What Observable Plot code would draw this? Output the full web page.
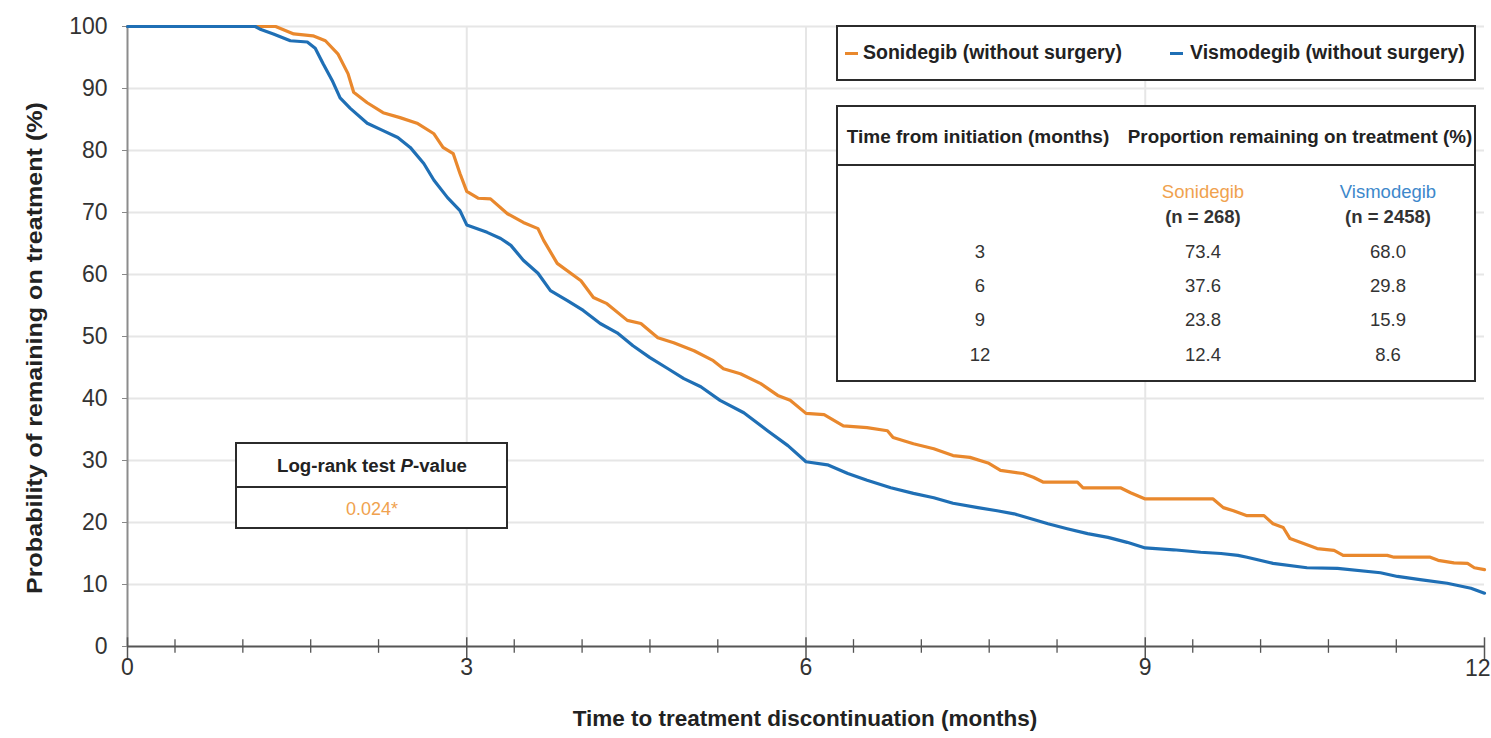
<!DOCTYPE html>
<html>
<head>
<meta charset="utf-8">
<script src="https://cdn.jsdelivr.net/npm/d3@7"></script>
<script src="https://cdn.jsdelivr.net/npm/@observablehq/plot@0.6"></script>
<style>
  body { margin: 0; background: #fff; }
  #wrap {
    position: relative; width: 1491px; height: 738px; overflow: hidden;
    font-family: "Liberation Sans", Arial, sans-serif;
    color: #222;
  }
  #wrap svg { position: absolute; left: 0; top: 0; }
  .box { position: absolute; box-sizing: border-box; border: 2px solid #2b2b2b; background: #fff; }
  .abs { position: absolute; white-space: nowrap; }
  .c { transform: translate(-50%, -50%); text-align: center; }
  .b { font-weight: bold; }
</style>
</head>
<body>
<div id="wrap"></div>
<script>
// Kaplan–Meier estimates of time to treatment discontinuation (months, % remaining)
const sonidegibTime = [0, 1.15, 1.31, 1.47, 1.64, 1.75, 1.86, 1.95, 2.00, 2.12, 2.26, 2.41, 2.56, 2.71, 2.79, 2.88, 2.94, 3.00, 3.10, 3.21, 3.36, 3.50, 3.63, 3.68, 3.80, 4.01, 4.12, 4.24, 4.42, 4.54, 4.69, 4.83, 5.01, 5.18, 5.27, 5.42, 5.60, 5.75, 5.86, 6.00, 6.16, 6.33, 6.54, 6.72, 6.77, 6.95, 7.13, 7.30, 7.45, 7.61, 7.72, 7.92, 8.01, 8.10, 8.40, 8.45, 8.78, 8.87, 9.00, 9.60, 9.69, 9.78, 9.90, 10.05, 10.13, 10.22, 10.28, 10.40, 10.52, 10.67, 10.75, 11.14, 11.20, 11.52, 11.59, 11.73, 11.85, 11.91, 12.00];
const sonidegibPct = [100, 100, 100, 98.8, 98.5, 97.7, 95.6, 92.4, 89.4, 87.7, 86.1, 85.3, 84.4, 82.7, 80.5, 79.5, 76.3, 73.4, 72.3, 72.2, 69.8, 68.4, 67.4, 65.5, 61.8, 59.0, 56.3, 55.3, 52.6, 52.1, 49.8, 49.0, 47.7, 46.1, 44.8, 44.0, 42.4, 40.5, 39.7, 37.6, 37.4, 35.6, 35.3, 34.8, 33.7, 32.7, 31.9, 30.8, 30.5, 29.6, 28.4, 27.9, 27.3, 26.5, 26.5, 25.6, 25.6, 24.8, 23.8, 23.8, 22.4, 21.9, 21.1, 21.1, 19.8, 19.2, 17.4, 16.6, 15.8, 15.5, 14.7, 14.7, 14.4, 14.4, 13.9, 13.5, 13.4, 12.7, 12.4];

const vismodegibTime = [0, 1.13, 1.18, 1.29, 1.44, 1.59, 1.66, 1.73, 1.81, 1.88, 1.97, 2.12, 2.26, 2.39, 2.50, 2.62, 2.71, 2.83, 2.94, 3.00, 3.18, 3.30, 3.39, 3.50, 3.63, 3.74, 3.89, 4.03, 4.18, 4.33, 4.47, 4.62, 4.78, 4.92, 5.07, 5.24, 5.45, 5.66, 5.84, 6.00, 6.19, 6.37, 6.54, 6.75, 6.95, 7.13, 7.30, 7.52, 7.69, 7.84, 7.99, 8.14, 8.31, 8.49, 8.67, 8.84, 9.00, 9.25, 9.49, 9.67, 9.82, 9.90, 10.13, 10.43, 10.70, 11.08, 11.23, 11.43, 11.67, 11.88, 12.00];
const vismodegibPct = [100, 100, 99.5, 98.8, 97.7, 97.5, 96.5, 94.0, 91.3, 88.5, 86.8, 84.4, 83.2, 82.1, 80.5, 77.9, 75.2, 72.4, 70.3, 68.0, 66.8, 65.8, 64.7, 62.3, 60.2, 57.4, 55.8, 54.2, 52.1, 50.6, 48.5, 46.6, 44.8, 43.2, 41.9, 39.7, 37.7, 34.8, 32.4, 29.8, 29.3, 27.9, 26.8, 25.6, 24.7, 24.0, 23.1, 22.4, 21.9, 21.4, 20.6, 19.8, 19.0, 18.2, 17.6, 16.8, 15.9, 15.6, 15.2, 15.0, 14.7, 14.4, 13.4, 12.7, 12.6, 11.9, 11.3, 10.8, 10.2, 9.4, 8.6];

const drugs = ["Sonidegib", "Vismodegib"];
const legendLabels = ["Sonidegib (without surgery)", "Vismodegib (without surgery)"];
const drugColors = ["#e9882d", "#1f6fb5"];
const drugTextColors = ["#f0a24e", "#3d88cb"];
const sampleSizes = ["(n = 268)", "(n = 2458)"];

// Summary table: months since initiation and proportion remaining (%)
const tableMonths = ["3", "6", "9", "12"];
const tableSonidegib = ["73.4", "37.6", "23.8", "12.4"];
const tableVismodegib = ["68.0", "29.8", "15.9", "8.6"];
const tableHeaders = ["Time from initiation (months)", "Proportion remaining on treatment (%)"];

const pValueTitle = "Log-rank test ";
const pValue = "0.024*";

const xTicks = [0, 3, 6, 9, 12];
const xMinorTicks = [0.42, 1.02, 1.62, 2.22, 3.42, 4.02, 4.62, 5.22, 6.42, 7.02, 7.62, 8.22, 9.42, 10.02, 10.62, 11.22];
const yTicks = [0, 10, 20, 30, 40, 50, 60, 70, 80, 90, 100];
const xTitle = "Time to treatment discontinuation (months)";
const yTitle = "Probability of remaining on treatment (%)";

const FONT = '"Liberation Sans", Arial, sans-serif';

const rows = [
  ...sonidegibTime.map((t, i) => ({drug: drugs[0], t, p: sonidegibPct[i]})),
  ...vismodegibTime.map((t, i) => ({drug: drugs[1], t, p: vismodegibPct[i]}))
];

const lastTick = xTicks[xTicks.length - 1];

const chart = Plot.plot({
  width: 1491,
  height: 738,
  marginLeft: 127,
  marginRight: 7,
  marginTop: 26,
  marginBottom: 92,
  style: {fontFamily: FONT, fontSize: "23px", color: "#333", background: "transparent", overflow: "hidden"},
  x: {domain: [0, 12]},
  y: {domain: [0, 100]},
  color: {domain: drugs, range: drugColors},
  marks: [
    Plot.ruleY(yTicks.filter(d => d > 0), {stroke: "#e6e6e6", strokeWidth: 2}),
    Plot.ruleX(xTicks.filter(d => d > 0 && d < 12), {stroke: "#e6e6e6", strokeWidth: 2}),
    Plot.ruleX([0], {stroke: "#8c8c8c", strokeWidth: 2}),
    Plot.ruleY([0], {stroke: "#555", strokeWidth: 2}),
    Plot.ruleX(xMinorTicks, {y1: 1.1, y2: -1.1, stroke: "#555", strokeWidth: 1.3}),
    Plot.ruleX(xTicks, {y1: 1.4, y2: -2.2, stroke: "#555", strokeWidth: 1.5}),
    Plot.axisY({ticks: yTicks, tickSize: 5, tickPadding: 15, label: null, stroke: "#888", fill: "#333"}),
    Plot.axisX({ticks: xTicks.slice(0, -1), tickSize: 0, tickPadding: 12, label: null, fill: "#333"}),
    // last tick label sits against the right edge
    Plot.text([lastTick], {x: d => d, y: 0, dy: 22, dx: 6, textAnchor: "end", fontSize: 23, fill: "#333"}),
    Plot.line(rows, {x: "t", y: "p", z: "drug", stroke: "drug", strokeWidth: 3.2, strokeLinejoin: "round"})
  ]
});

const wrap = document.getElementById("wrap");
wrap.appendChild(chart);

function el(parent, cls, text, css) {
  const d = document.createElement("div");
  d.className = cls;
  if (text != null) d.textContent = text;
  Object.assign(d.style, css || {});
  parent.appendChild(d);
  return d;
}

// Axis titles
el(wrap, "abs c b", xTitle, {left: "805px", top: "719px", fontSize: "22.5px", color: "#222"});
el(wrap, "abs b", yTitle, {left: "35px", top: "348px", fontSize: "22px", color: "#222",
  transform: "translate(-50%, -50%) rotate(-90deg) scaleX(1.14)"});

// Legend
const legend = el(wrap, "box", null, {left: "836px", top: "25px", width: "640px", height: "56px"});
const legendX = [[7, 25], [332, 352]];
drugs.forEach((d, i) => {
  el(legend, "abs", null, {left: legendX[i][0] + "px", top: "25px", width: "13px", height: "3px", background: drugColors[i]});
  el(legend, "abs b", legendLabels[i], {left: legendX[i][1] + "px", top: "14px", fontSize: "19.5px", color: "#222"});
});

// Summary table
const table = el(wrap, "box", null, {left: "836px", top: "105px", width: "640px", height: "277px"});
el(table, "abs", null, {left: "0px", top: "57px", width: "636px", height: "2px", background: "#2b2b2b"});
el(table, "abs c b", tableHeaders[0], {left: "140px", top: "30px", fontSize: "19px"});
el(table, "abs c b", tableHeaders[1], {left: "462px", top: "30px", fontSize: "18.8px"});
const colX = [365, 550];
drugs.forEach((d, i) => {
  el(table, "abs c", d, {left: colX[i] + "px", top: "85px", fontSize: "18.5px", color: drugTextColors[i]});
  el(table, "abs c b", sampleSizes[i], {left: colX[i] + "px", top: "110px", fontSize: "18.5px", color: "#333"});
});
tableMonths.forEach((m, r) => {
  const y = 145 + r * 34.2;
  el(table, "abs c", m, {left: "142px", top: y + "px", fontSize: "18.5px", color: "#333"});
  el(table, "abs c", tableSonidegib[r], {left: colX[0] + "px", top: y + "px", fontSize: "18.5px", color: "#333"});
  el(table, "abs c", tableVismodegib[r], {left: colX[1] + "px", top: y + "px", fontSize: "18.5px", color: "#333"});
});

// Log-rank test box
const lr = el(wrap, "box", null, {left: "235px", top: "442px", width: "273px", height: "87px"});
el(lr, "abs", null, {left: "0px", top: "42px", width: "269px", height: "2px", background: "#2b2b2b"});
const title = el(lr, "abs c b", null, {left: "135px", top: "22px", fontSize: "18.7px", color: "#222"});
title.appendChild(document.createTextNode(pValueTitle));
const ital = document.createElement("i");
ital.textContent = "P";
title.appendChild(ital);
title.appendChild(document.createTextNode("-value"));
el(lr, "abs c", pValue, {left: "135px", top: "65px", fontSize: "18px", color: drugTextColors[0]});
</script>
</body>
</html>
